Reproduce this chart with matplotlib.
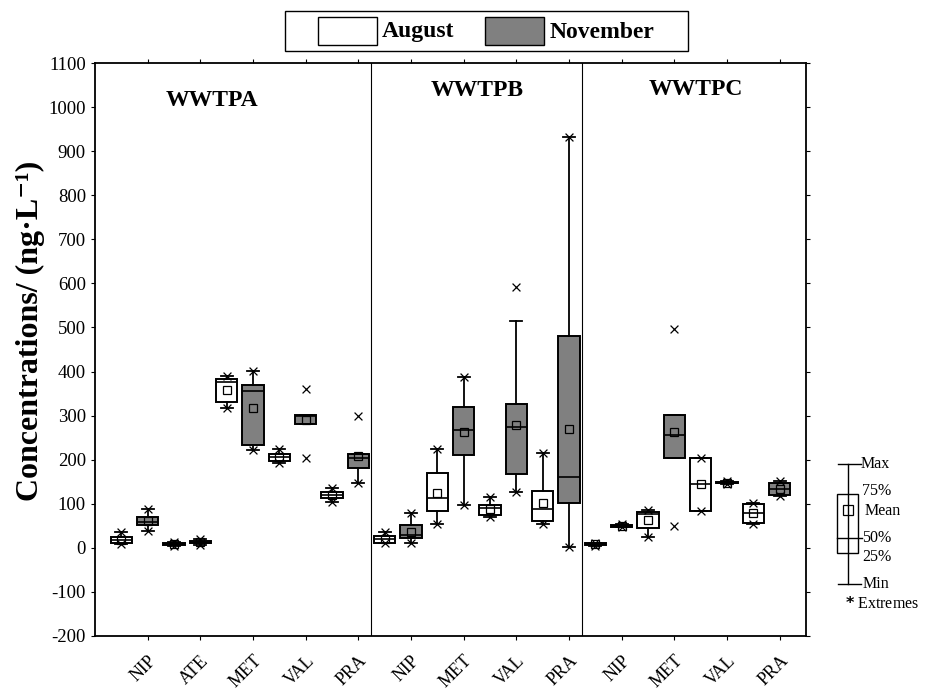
import numpy as np
import matplotlib.pyplot as plt
from matplotlib.patches import Rectangle
from matplotlib.transforms import ScaledTranslation

plt.rcParams['font.family'] = ['Liberation Serif', 'DejaVu Serif']
plt.rcParams['axes.unicode_minus'] = False

# plants and the drugs measured in each
plants = ['WWTPA', 'WWTPB', 'WWTPC']
drugs_A = ['NIP', 'ATE', 'MET', 'VAL', 'PRA']
drugs_B = ['NIP', 'MET', 'VAL', 'PRA']
drugs_C = ['NIP', 'MET', 'VAL', 'PRA']
months = ['August', 'November']

# box statistics, order: per plant, per drug, August then November
q1 = [11, 51, 6, 10, 330, 234, 197, 280, 113, 182,
      11, 22, 83, 210, 75, 168, 62, 102,
      6, 48, 45, 203, 83, 146, 57, 119]
med = [17, 58, 9, 12, 377, 355, 205, 300, 120, 203,
       19, 30, 112, 268, 90, 274, 89, 161,
       8, 50, 76, 256, 144, 148, 80, 133]
q3 = [24, 69, 12, 15, 382, 370, 213, 302, 126, 214,
      28, 51, 170, 320, 98, 326, 128, 481,
      10, 52, 81, 301, 204, 150, 100, 146]
lo = [9, 38, 5, 6, 318, 221, 193, 280, 103, 148,
      10, 11, 54, 97, 71, 126, 55, 3,
      5, 47, 24, 203, 83, 145, 55, 118]
hi = [35, 89, 13, 21, 390, 401, 225, 302, 135, 214,
      37, 78, 225, 387, 115, 515, 215, 933,
      11, 53, 85, 301, 204, 151, 102, 151]
mean = [18, 61, 9, 13, 358, 318, 206, 289, 120, 209,
        21, 37, 124, 262, 89, 278, 102, 270,
        8, 50, 64, 263, 144, 148, 80, 133]
ext_lo = [9, 38, 5, 6, 318, 221, 193, 203, 103, 148,
          10, 11, 54, 97, 71, 126, 55, 3,
          5, 47, 24, 50, 83, 145, 55, 118]
ext_hi = [35, 89, 13, 21, 390, 401, 225, 360, 135, 299,
          37, 78, 225, 387, 115, 591, 215, 933,
          11, 53, 85, 497, 204, 151, 102, 151]

W, H = 929, 693
fig = plt.figure(figsize=(W / 100, H / 100), dpi=100)
ax = fig.add_axes([95 / W, 57 / H, 711 / W, 573 / H])

stats = []
for i in range(len(q1)):
    stats.append(dict(med=med[i], q1=q1[i], q3=q3[i], whislo=lo[i],
                      whishi=hi[i], mean=mean[i], fliers=[]))
pos = np.arange(len(stats))

bp = ax.bxp(stats, positions=pos, widths=0.82, patch_artist=True,
            showmeans=True, showfliers=False, capwidths=0.45,
            boxprops=dict(edgecolor='black', linewidth=1.4),
            whiskerprops=dict(color='black', linewidth=1.3),
            capprops=dict(color='black', linewidth=1.3),
            medianprops=dict(color='black', linewidth=1.2),
            meanprops=dict(marker='s', markerfacecolor='none',
                           markeredgecolor='black', markersize=6,
                           markeredgewidth=0.9))
for k, patch in enumerate(bp['boxes']):
    patch.set_facecolor('white' if k % 2 == 0 else '#808080')

ax.scatter(pos, ext_lo, marker='x', color='black', s=32, linewidths=0.9, zorder=5)
ax.scatter(pos, ext_hi, marker='x', color='black', s=32, linewidths=0.9, zorder=5)

# panel separators and titles
all_drugs = drugs_A + drugs_B + drugs_C
counts = [len(drugs_A), len(drugs_B), len(drugs_C)]
edges = np.cumsum(counts) * 2 - 0.5
for e in edges[:-1]:
    ax.axvline(e, color='black', linewidth=0.8)
title_x = [3.45, 13.5, 21.8]
title_y = [1015, 1037, 1040]
for name, tx, ty in zip(plants, title_x, title_y):
    ax.text(tx, ty, name, ha='center', va='center', fontsize=17, fontweight='bold')

ax.set_xlim(-1, 26)
ax.set_ylim(-200, 1100)
ax.set_yticks(np.arange(-200, 1101, 100))
ax.tick_params(axis='y', labelsize=13.5, direction='out', length=3, right=True)
ax.set_xticks(pos[1::2])
ax.set_xticklabels(all_drugs, rotation=45, ha='right', va='center',
                   rotation_mode='anchor', fontsize=13)
ax.tick_params(axis='x', direction='out', length=3, pad=13, top=True)
shift = ScaledTranslation(0.06, 0, fig.dpi_scale_trans)
for lab in ax.get_xticklabels():
    lab.set_transform(lab.get_transform() + shift)
for s in ax.spines.values():
    s.set_linewidth(1.3)

fig.text(30 / W, 1 - 331 / H, 'Concentrations/ (ng·L\u207b\u00b9)',
         rotation=90, ha='center', va='center', fontsize=23, fontweight='bold')


def fx(x):
    return x / W


def fy(y):
    return 1 - y / H


# legend drawn by hand
tf = fig.transFigure
fig.patches.append(Rectangle((fx(285), fy(51)), 403 / W, 40 / H, transform=tf,
                             facecolor='white', edgecolor='black', linewidth=1.0))
fig.patches.append(Rectangle((fx(318), fy(45)), 59 / W, 28 / H, transform=tf,
                             facecolor='white', edgecolor='black', linewidth=1.0))
fig.patches.append(Rectangle((fx(485), fy(45)), 59 / W, 28 / H, transform=tf,
                             facecolor='#808080', edgecolor='black', linewidth=1.0))
fig.text(fx(382), fy(32), months[0], ha='left', va='center', fontsize=17, fontweight='bold')
fig.text(fx(550), fy(32), months[1], ha='left', va='center', fontsize=17, fontweight='bold')

# key explaining the box
kx = 848
fig.add_artist(plt.Line2D([fx(kx), fx(kx)], [fy(464), fy(584)], transform=tf,
                          color='black', linewidth=1.0))
fig.patches.append(Rectangle((fx(837), fy(553)), 21 / W, 59 / H, transform=tf,
                             facecolor='white', edgecolor='black', linewidth=1.0))
fig.add_artist(plt.Line2D([fx(838), fx(861)], [fy(464), fy(464)], transform=tf,
                          color='black', linewidth=1.0))
fig.add_artist(plt.Line2D([fx(838), fx(861)], [fy(584), fy(584)], transform=tf,
                          color='black', linewidth=1.0))
fig.add_artist(plt.Line2D([fx(837), fx(862)], [fy(538), fy(538)], transform=tf,
                          color='black', linewidth=1.0))
fig.add_artist(plt.Line2D([fx(848)], [fy(510)], transform=tf, marker='s',
                          markersize=7, markerfacecolor='none',
                          markeredgecolor='black', markeredgewidth=0.9))
key_labels = [('Max', 861, 464), ('75%', 862, 491), ('Mean', 865, 511),
              ('50%', 862, 538), ('25%', 862, 557), ('Min', 863, 584)]
for lab, lx, ly in key_labels:
    fig.text(fx(lx), fy(ly), lab, ha='left', va='center', fontsize=11.5)
fig.text(fx(845), fy(604), r'$\mathbf{*}$ Extremes', ha='left', va='center', fontsize=11.5)

fig.savefig('out.png', dpi=100)
